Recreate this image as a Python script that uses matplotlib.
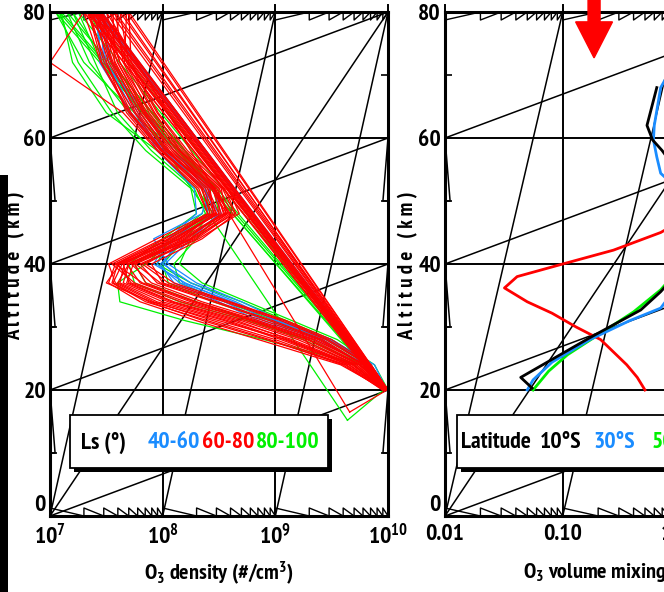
import numpy as np
import matplotlib.pyplot as plt
from matplotlib.patches import Rectangle, FancyArrow
from matplotlib.transforms import blended_transform_factory

plt.rcParams['font.family'] = ['PT Sans Narrow', 'DejaVu Sans']
plt.rcParams['font.weight'] = 'bold'
plt.rcParams['mathtext.fontset'] = 'custom'
plt.rcParams['mathtext.rm'] = 'PT Sans Narrow:bold'
plt.rcParams['mathtext.it'] = 'PT Sans Narrow:bold'
plt.rcParams['mathtext.bf'] = 'PT Sans Narrow:bold'

RED, BLUE, GREEN = '#ff0000', '#1a8cff', '#00f000'

# ---- left panel: O3 density profiles, log10(#/cm3) on a common altitude grid
alt_grid = [20, 24, 28, 31, 34, 37, 40, 44, 48, 52, 58, 64, 72, 80]

ls_40_60 = [
    [10.00, 9.85, 9.45, 9.00, 8.65, 8.25, 8.00, 8.15, 8.45, 8.40, 8.05, 7.80, 7.55, 7.45],
    [9.98, 9.80, 9.40, 8.90, 8.55, 8.15, 7.95, 8.10, 8.40, 8.38, 8.00, 7.75, 7.50, 7.42],
    [9.99, 9.88, 9.50, 9.05, 8.70, 8.30, 8.05, 7.92, 8.35, 8.42, 8.10, 7.85, 7.48, 7.44],
    [10.00, 9.82, 9.35, 8.85, 8.50, 8.10, 7.98, 8.20, 8.52, 8.45, 7.98, 7.70, 7.46, 7.40],
    [9.97, 9.78, 9.42, 8.95, 8.60, 8.20, 7.92, 8.05, 8.30, 8.28, 7.95, 7.78, 7.52, 7.46],
    [9.99, 9.84, 9.48, 9.02, 8.62, 8.18, 8.02, 8.25, 8.50, 8.36, 8.02, 7.72, 7.44, 7.43],
]

ls_60_80 = [
    [10.00, 9.80, 9.35, 8.85, 8.30, 7.85, 7.75, 8.20, 8.55, 8.45, 8.10, 7.85, 7.60, 7.45],
    [9.98, 9.72, 9.20, 8.70, 8.10, 7.70, 7.65, 8.10, 8.50, 8.40, 8.05, 7.80, 7.55, 7.40],
    [9.99, 9.78, 9.40, 8.95, 8.45, 7.95, 7.80, 8.30, 8.62, 8.50, 8.15, 7.90, 7.62, 7.50],
    [9.97, 9.65, 9.05, 8.55, 7.95, 7.60, 7.70, 8.15, 8.48, 8.38, 8.00, 7.75, 7.48, 7.35],
    [10.00, 9.82, 9.45, 9.05, 8.55, 8.00, 7.90, 8.35, 8.65, 8.55, 8.20, 7.95, 7.70, 7.62],
    [9.96, 9.60, 8.95, 8.40, 7.85, 7.55, 7.60, 8.05, 8.42, 8.35, 7.98, 7.70, 7.45, 7.30],
    [9.99, 9.75, 9.30, 8.80, 8.20, 7.75, 7.55, 8.00, 8.45, 8.42, 8.08, 7.82, 7.58, 7.42],
    [10.00, 9.85, 9.50, 9.10, 8.60, 8.10, 7.85, 8.25, 8.58, 8.48, 8.12, 7.88, 7.65, 7.58],
    [9.98, 9.70, 9.15, 8.62, 8.05, 7.65, 7.70, 8.22, 8.52, 8.44, 8.02, 7.78, 7.52, 7.38],
    [9.97, 9.68, 9.10, 8.50, 7.90, 7.50, 7.62, 8.12, 8.46, 8.36, 8.00, 7.72, 7.50, 7.33],
    [10.00, 9.78, 9.38, 8.90, 8.35, 7.90, 7.72, 8.18, 8.56, 8.52, 8.18, 7.92, 7.66, 7.68],
    [9.99, 9.74, 9.28, 8.78, 8.25, 7.80, 7.68, 8.28, 8.60, 8.46, 8.06, 7.84, 7.60, 7.44],
    [9.95, 9.62, 9.00, 8.45, 7.92, 7.58, 7.52, 7.95, 8.40, 8.30, 7.95, 7.65, 7.00, 7.30],
    [9.98, 9.76, 9.33, 8.82, 8.28, 7.82, 7.58, 8.08, 8.50, 8.50, 8.14, 7.86, 7.62, 7.46],
    [9.99, 9.79, 9.42, 8.98, 8.48, 7.98, 7.76, 8.26, 8.64, 8.53, 8.16, 7.93, 7.68, 7.53],
    [9.97, 9.66, 9.08, 8.58, 8.00, 7.62, 7.66, 8.14, 8.47, 8.40, 8.03, 7.76, 7.54, 7.37],
    [9.98, 9.58, 8.85, 8.30, 7.80, 7.52, 7.58, 8.02, 8.40, 8.32, 7.96, 7.68, 7.50, 7.64],
    [10.00, 9.83, 9.47, 9.08, 8.58, 8.05, 7.82, 8.32, 8.68, 8.58, 8.22, 7.96, 7.72, 7.70],
    [9.97, 9.63, 8.92, 8.36, 7.88, 7.56, 7.64, 8.06, 8.44, 8.34, 7.99, 7.71, 7.46, 7.34],
    [9.99, 9.72, 9.24, 8.74, 8.16, 7.72, 7.60, 8.16, 8.54, 8.47, 8.10, 7.83, 7.57, 7.56],
    [9.98, 9.69, 9.12, 8.66, 8.08, 7.68, 7.74, 8.24, 8.57, 8.43, 8.04, 7.80, 7.56, 7.41],
]

ls_80_100 = [
    [9.99, 9.80, 9.40, 8.95, 8.45, 8.05, 8.00, 8.20, 8.40, 8.35, 8.05, 7.75, 7.30, 7.05],
    [10.00, 9.75, 8.90, 8.20, 7.62, 7.60, 7.85, 8.10, 8.45, 8.30, 7.95, 7.50, 7.20, 7.10],
    [9.98, 9.85, 9.50, 9.10, 8.70, 8.25, 7.95, 8.05, 8.35, 8.42, 8.20, 7.90, 7.55, 7.35],
    [9.96, 9.70, 9.25, 8.80, 8.30, 7.85, 7.75, 8.10, 8.38, 8.28, 7.90, 7.60, 7.40, 7.20],
    [10.00, 9.82, 9.45, 9.00, 8.55, 8.15, 8.10, 8.30, 8.50, 8.45, 8.15, 7.70, 7.35, 7.15],
    [9.97, 9.78, 9.30, 8.75, 8.15, 7.75, 7.70, 8.00, 8.30, 8.25, 7.85, 7.55, 7.25, 7.08],
    [10.00, 9.88, 9.55, 9.15, 8.75, 8.35, 8.15, 8.25, 8.42, 8.38, 8.10, 7.82, 7.45, 7.25],
]

# profiles whose lowest level sits below 20 km: (group, index, altitude, log10 density)
low_levels = [('60-80', 2, 16.5, 9.66), ('80-100', 3, 15.2, 9.64)]

# ---- right panel: O3 volume mixing ratio (ppmv) by latitude
lat_labels = ['10°S', '30°S', '50°S', '70°S']
alt_10S = [20.3, 22.0, 28.3, 32.7, 35.6, 40, 46, 52, 58, 59.7, 62, 68]
vmr_10S = [0.055, 0.044, 0.17, 0.46, 0.68, 1.1, 1.5, 1.2, 0.70, 0.58, 0.52, 0.63]
alt_30S = [20, 21.6, 24.4, 28, 31, 33, 40, 48, 54.4, 57, 59.7, 62, 68, 72]
vmr_30S = [0.050, 0.056, 0.081, 0.17, 0.37, 0.68, 1.3, 1.6, 0.68, 0.63, 0.59, 0.60, 0.68, 0.9]
alt_50S = [20, 23, 25.6, 29, 32.4, 35.9, 42, 50, 60, 70]
vmr_50S = [0.056, 0.076, 0.11, 0.21, 0.40, 0.68, 1.3, 1.8, 1.5, 1.2]
alt_70S = [20, 22, 24, 28, 30, 32.2, 34, 36.2, 38, 40, 42.2, 45, 48, 55, 65]
vmr_70S = [0.50, 0.43, 0.35, 0.21, 0.13, 0.081, 0.050, 0.032, 0.041, 0.10, 0.27, 0.68, 1.3, 2.0, 2.0]

W, H = 664, 592
fig = plt.figure(figsize=(W / 100, H / 100), dpi=100)
ax1 = fig.add_axes([50 / W, 76 / H, 338 / W, 504 / H])
ax2 = fig.add_axes([445 / W, 76 / H, 338 / W, 504 / H])

FS_TICK = 17
FS_LAB = 16
FS_LEG = 17
tooth = 1.27  # km


def frame(ax, xmin, xmax, decades, ticklabels):
    ax.set_xscale('log')
    ax.set_xlim(xmin, xmax)
    ax.set_ylim(0, 80)
    for s in ax.spines.values():
        s.set_linewidth(2.2)
    ax.set_xticks(decades[:len(ticklabels)])
    ax.set_xticklabels(ticklabels, fontsize=FS_TICK)
    ax.xaxis.set_minor_locator(plt.NullLocator())
    ax.tick_params(axis='x', length=0, pad=6)
    ax.set_yticks([0, 20, 40, 60, 80])
    ax.set_yticklabels(['0', '20', '40', '60', '80'], fontsize=FS_TICK)
    ax.get_yticklabels()[0].set_verticalalignment('bottom')
    ax.set_yticks([10, 30, 50, 70], minor=True)
    ax.tick_params(axis='y', which='major', length=0, pad=3)
    ax.tick_params(axis='y', which='minor', length=5, width=1.2, direction='in',
                   left=True, right=True)
    k = dict(color='black', lw=1.4, zorder=1)
    tk = dict(color='black', lw=1.1, zorder=1)
    bt = blended_transform_factory(ax.transData, ax.transAxes)
    # grid with top ticks poking out
    for d in decades:
        ax.plot([d, d], [0, 1.014], transform=bt, clip_on=False, **k)
    for y in [20, 40, 60]:
        ax.axhline(y, **k)
    # stray construction lines
    for d in decades[:-1]:
        ax.plot([d, d * 10], [0, 80], **tk)
    ax.plot([xmin, xmax], [0, 80], **tk)
    for y in [0, 20, 40, 60]:
        ax.plot([xmin, xmax], [y, y + 20], **tk)
    # saw-tooth minor ticks along bottom and top
    for d in decades[:-1]:
        for m in range(1, 10):
            x0, x1 = m * d, (m + 1) * d
            ax.plot([x0, x0, x1], [0, tooth, 0], color='black', lw=1.0, zorder=1)
            ax.plot([x0, x0, x1], [80, 80 - tooth, 80], color='black', lw=1.0, zorder=1)
    # thin wedges inside the side frames
    for y in [60, 40, 20]:
        yf = y / 80
        ax.plot([0, 0.015, 0], [yf, yf - 0.125, yf - 0.125], transform=ax.transAxes,
                color='black', lw=1.1, zorder=1)
        ax.plot([1, 0.985, 1], [yf, yf - 0.125, yf - 0.125], transform=ax.transAxes,
                color='black', lw=1.1, zorder=1)


def legend_box(ax, x0, x1):
    y0, h = 0.095, 0.105
    ax.add_patch(Rectangle((x0 + 0.012, y0 - 0.008), x1 - x0, h, transform=ax.transAxes,
                           facecolor='black', edgecolor='none', zorder=5, clip_on=False))
    ax.add_patch(Rectangle((x0, y0), x1 - x0, h, transform=ax.transAxes,
                           facecolor='white', edgecolor='black', lw=1.3, zorder=6,
                           clip_on=False))


# left panel
frame(ax1, 1e7, 1e10, [1e7, 1e8, 1e9, 1e10],
      ['10$^{7}$', '10$^{8}$', '10$^{9}$', '10$^{10}$'])
groups = {'80-100': (ls_80_100, GREEN), '40-60': (ls_40_60, BLUE), '60-80': (ls_60_80, RED)}
for name, (group, col) in groups.items():
    for i, prof in enumerate(group):
        alts, vals = list(alt_grid), list(prof)
        for g, j, a0, v0 in low_levels:
            if g == name and j == i:
                alts, vals = [a0] + alts, [v0] + vals
        dens = 10 ** np.array(vals + vals[:1])
        ax1.plot(dens, alts + alts[:1], color=col, lw=0.9, zorder=2)

legend_box(ax1, 0.059, 0.822)
for txt, xf, col in [('Ls (°)', 0.158, 'black'), ('40-60', 0.365, BLUE),
                     ('60-80', 0.528, RED), ('80-100', 0.703, GREEN)]:
    ax1.text(xf, 0.145, txt, transform=ax1.transAxes, color=col, fontsize=FS_LEG,
             ha='center', va='center', zorder=7)
ax1.text(0.5, -0.113, 'O$_{3}$ density (#/cm$^{3}$)', transform=ax1.transAxes,
         ha='center', va='center', fontsize=FS_LAB)

# right panel
xmax2 = 10 ** (-2 + 338 / 117.7)
frame(ax2, 0.01, xmax2, [0.01, 0.1, 1.0], ['0.01', '0.10', '1.00'])
for a, v, col in [(alt_70S, vmr_70S, RED), (alt_50S, vmr_50S, GREEN),
                  (alt_30S, vmr_30S, BLUE), (alt_10S, vmr_10S, 'black')]:
    ax2.plot(v, a, color=col, lw=2.0, zorder=3)

legend_box(ax2, 0.0355, 1.0)
for txt, xf, col in [('Latitude', 0.150, 'black'), (lat_labels[0], 0.343, 'black'),
                     (lat_labels[1], 0.501, BLUE), (lat_labels[2], 0.672, GREEN),
                     (lat_labels[3], 0.83, RED)]:
    ax2.text(xf, 0.145, txt, transform=ax2.transAxes, color=col, fontsize=FS_LEG,
             ha='center', va='center', zorder=7)
ax2.text(0.231, -0.113, 'O$_{3}$ volume mixing ratio (ppmv)', transform=ax2.transAxes,
         ha='left', va='center', fontsize=FS_LAB)
ax2.add_patch(FancyArrow(0.441, 1.024, 0, -0.115, width=0.0355, head_width=0.109,
                         head_length=0.0714, length_includes_head=True, color=RED,
                         transform=ax2.transAxes, clip_on=False, zorder=8))

# axis titles
for xp in [15, 408]:
    fig.text(xp / W, 1 - 266 / H, 'A l t i t u d e   ( k m )', rotation=90,
             ha='center', va='center', fontsize=15)

fig.add_artist(Rectangle((0, 0), 8 / W, 417 / H, transform=fig.transFigure,
                         facecolor='black', edgecolor='none'))

fig.savefig('out.png', dpi=100)
